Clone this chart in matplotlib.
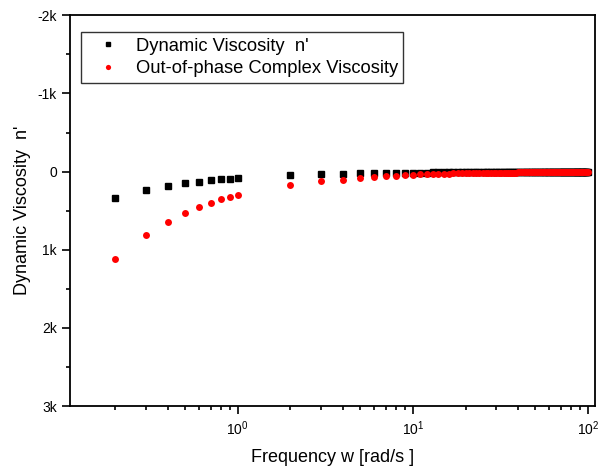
import matplotlib
matplotlib.use("Agg")
import matplotlib.pyplot as plt
from matplotlib.ticker import LogLocator, FixedLocator, NullFormatter

plt.rcParams['font.family'] = ['Liberation Sans', 'DejaVu Sans']
plt.rcParams['mathtext.fontset'] = 'custom'
plt.rcParams['mathtext.rm'] = 'Liberation Sans'
plt.rcParams['mathtext.it'] = 'Liberation Sans'
plt.rcParams['mathtext.default'] = 'regular'

freq_low = [0.2, 0.3, 0.4, 0.5, 0.6, 0.7, 0.8, 0.9, 1.0]
freq_high = list(range(2, 101))
freq = freq_low + freq_high

dyn_visc = [338, 236, 184, 150, 129, 112, 99, 90, 81,
            46, 33, 26, 21, 19, 17, 15, 14, 13,
            12, 12, 11, 10, 10, 9, 9, 8, 8, 8,
            7, 7, 7, 7, 7, 6, 6, 6, 6, 6,
            5, 5, 5, 5, 5, 5, 5, 5, 4, 4,
            4, 4, 4, 4, 4, 4, 4, 4, 4, 3,
            3, 3, 3, 3, 3, 3, 3, 3, 3, 3,
            3, 3, 3, 3, 3, 3, 3, 3, 2, 2,
            2, 2, 2, 2, 2, 2, 2, 2, 2, 2,
            2, 2, 2, 2, 2, 2, 2, 2, 2, 2,
            2, 2, 2, 2, 2, 2, 2, 2, 2, 2]

oop_visc = [1124, 807, 640, 528, 455, 399, 356, 322, 296,
            172, 125, 103, 81, 68, 60, 51, 43, 38,
            35, 32, 30, 28, 27, 25, 24, 23, 22, 21,
            20, 19, 18, 18, 17, 16, 16, 15, 15, 14,
            14, 14, 13, 13, 13, 12, 12, 12, 12, 11,
            11, 11, 11, 10, 10, 10, 10, 10, 9, 9,
            9, 9, 9, 9, 9, 9, 8, 8, 8, 8,
            8, 8, 8, 8, 7, 7, 7, 7, 7, 7,
            7, 7, 7, 7, 7, 6, 6, 6, 6, 6,
            6, 6, 6, 6, 6, 6, 6, 6, 5, 5,
            5, 5, 5, 5, 5, 5, 5, 5, 5, 5]

y_ticks = [-2000, -1000, 0, 1000, 2000, 3000]
y_ticklabels = ['-2k', '-1k', '0', '1k', '2k', '3k']

fig = plt.figure(figsize=(5.99, 4.66), dpi=100)
ax = fig.add_axes([70.3 / 599, 60 / 466, 524.4 / 599, 390.7 / 466])

ax.plot(freq, dyn_visc, linestyle='none', marker='s', markersize=4.5,
        color='black', label="Dynamic Viscosity  n'")
ax.plot(freq, oop_visc, linestyle='none', marker='o', markersize=5.0,
        color='red', markeredgewidth=0, label='Out-of-phase Complex Viscosity')

ax.set_xscale('log')
ax.set_xlim(0.1106, 109.2)
ax.set_ylim(3000, -2000)

ax.yaxis.set_major_locator(FixedLocator(y_ticks))
ax.set_yticklabels(y_ticklabels)
ax.yaxis.set_minor_locator(FixedLocator([-1500, -500, 500, 1500, 2500]))

ax.xaxis.set_major_locator(LogLocator(base=10, numticks=10))
ax.xaxis.set_minor_locator(LogLocator(base=10, subs=range(2, 10), numticks=20))
ax.xaxis.set_minor_formatter(NullFormatter())

ax.tick_params(which='both', direction='out', top=False, right=False,
               labelsize=10, width=1.2, colors='black')
ax.tick_params(which='major', length=6)
ax.tick_params(which='minor', length=3)
for s in ax.spines.values():
    s.set_linewidth(1.3)

ax.set_xlabel('Frequency w [rad/s ]', fontsize=13, labelpad=8)
ax.set_ylabel("Dynamic Viscosity  n'", fontsize=13, labelpad=5)

leg = ax.legend(loc='upper left', bbox_to_anchor=(0.0198, 0.9565), fontsize=13.2,
                frameon=True, fancybox=False, edgecolor='black',
                handlelength=2.4, handletextpad=0.3, borderpad=0.3,
                labelspacing=0.3, markerscale=0.75, borderaxespad=0)
leg.get_frame().set_linewidth(1.0)

fig.savefig('out.png', dpi=100)
